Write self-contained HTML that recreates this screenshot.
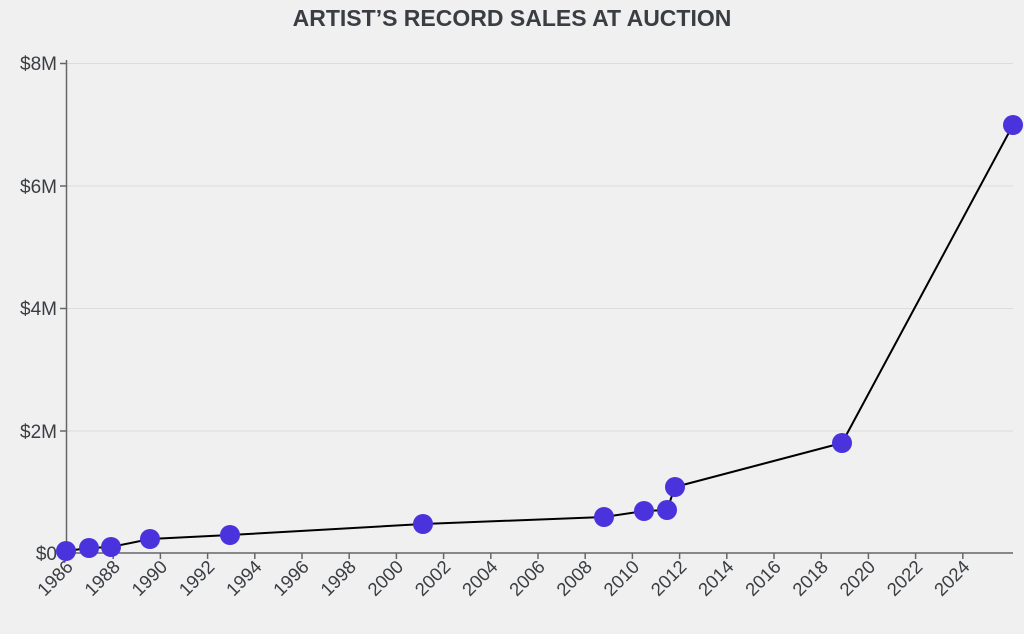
<!DOCTYPE html>
<html><head><style>
html,body{margin:0;padding:0;background:#f0f0f0;}
svg{display:block;font-family:"Liberation Sans",sans-serif;}
</style></head><body>
<svg width="1024" height="634" viewBox="0 0 1024 634">
<rect width="1024" height="634" fill="#f0f0f0"/>
<text x="512" y="26" text-anchor="middle" font-size="23" font-weight="bold" fill="#3a3d42">ARTIST’S RECORD SALES AT AUCTION</text>
<g stroke="#dcdcdc" stroke-width="1">
<line x1="66" y1="63.5" x2="1013" y2="63.5"/>
<line x1="66" y1="186" x2="1013" y2="186"/>
<line x1="66" y1="308.5" x2="1013" y2="308.5"/>
<line x1="66" y1="431" x2="1013" y2="431"/>
</g>
<g stroke="#666" stroke-width="1.5" fill="none">
<line x1="66.5" y1="60" x2="66.5" y2="553"/>
<line x1="66" y1="553" x2="1013" y2="553"/>
<line x1="60" y1="63.5" x2="66" y2="63.5"/>
<line x1="60" y1="186" x2="66" y2="186"/>
<line x1="60" y1="308.5" x2="66" y2="308.5"/>
<line x1="60" y1="431" x2="66" y2="431"/>
<line x1="60" y1="553" x2="66" y2="553"/>
</g>
<g font-size="19" fill="#3a3d42" text-anchor="end">
<text x="57" y="70">$8M</text>
<text x="57" y="193">$6M</text>
<text x="57" y="315">$4M</text>
<text x="57" y="438">$2M</text>
<text x="57" y="560">$0</text>
</g>
<g stroke="#666" stroke-width="1.5">
<line x1="66" y1="553" x2="66" y2="559"/><line x1="113.2" y1="553" x2="113.2" y2="559"/><line x1="160.4" y1="553" x2="160.4" y2="559"/><line x1="207.6" y1="553" x2="207.6" y2="559"/><line x1="254.8" y1="553" x2="254.8" y2="559"/><line x1="302" y1="553" x2="302" y2="559"/><line x1="349.2" y1="553" x2="349.2" y2="559"/><line x1="396.4" y1="553" x2="396.4" y2="559"/><line x1="443.6" y1="553" x2="443.6" y2="559"/><line x1="490.8" y1="553" x2="490.8" y2="559"/><line x1="538" y1="553" x2="538" y2="559"/><line x1="585.2" y1="553" x2="585.2" y2="559"/><line x1="632.4" y1="553" x2="632.4" y2="559"/><line x1="679.6" y1="553" x2="679.6" y2="559"/><line x1="726.8" y1="553" x2="726.8" y2="559"/><line x1="774" y1="553" x2="774" y2="559"/><line x1="821.2" y1="553" x2="821.2" y2="559"/><line x1="868.4" y1="553" x2="868.4" y2="559"/><line x1="915.6" y1="553" x2="915.6" y2="559"/><line x1="962.8" y1="553" x2="962.8" y2="559"/>
</g>
<g font-size="18.5" fill="#3a3d42" text-anchor="end">
<text transform="translate(74,568) rotate(-45)">1986</text>
<text transform="translate(121.2,568) rotate(-45)">1988</text>
<text transform="translate(168.4,568) rotate(-45)">1990</text>
<text transform="translate(215.6,568) rotate(-45)">1992</text>
<text transform="translate(262.8,568) rotate(-45)">1994</text>
<text transform="translate(310,568) rotate(-45)">1996</text>
<text transform="translate(357.2,568) rotate(-45)">1998</text>
<text transform="translate(404.4,568) rotate(-45)">2000</text>
<text transform="translate(451.6,568) rotate(-45)">2002</text>
<text transform="translate(498.8,568) rotate(-45)">2004</text>
<text transform="translate(546,568) rotate(-45)">2006</text>
<text transform="translate(593.2,568) rotate(-45)">2008</text>
<text transform="translate(640.4,568) rotate(-45)">2010</text>
<text transform="translate(687.6,568) rotate(-45)">2012</text>
<text transform="translate(734.8,568) rotate(-45)">2014</text>
<text transform="translate(782,568) rotate(-45)">2016</text>
<text transform="translate(829.2,568) rotate(-45)">2018</text>
<text transform="translate(876.4,568) rotate(-45)">2020</text>
<text transform="translate(923.6,568) rotate(-45)">2022</text>
<text transform="translate(970.8,568) rotate(-45)">2024</text>
</g>
<polyline fill="none" stroke="#000" stroke-width="2" points="66,551 89,548 111,547 150,539 230,535 423,524 604,517 644,511 667,510 675,487 842,443 1013,125"/>
<g fill="#4a33dd">
<circle cx="66" cy="551" r="10"/><circle cx="89" cy="548" r="10"/><circle cx="111" cy="547" r="10"/>
<circle cx="150" cy="539" r="10"/><circle cx="230" cy="535" r="10"/><circle cx="423" cy="524" r="10"/>
<circle cx="604" cy="517" r="10"/><circle cx="644" cy="511" r="10"/><circle cx="667" cy="510" r="10"/>
<circle cx="675" cy="487" r="10"/><circle cx="842" cy="443" r="10"/><circle cx="1013" cy="125" r="10"/>
</g>
</svg>
</body></html>
